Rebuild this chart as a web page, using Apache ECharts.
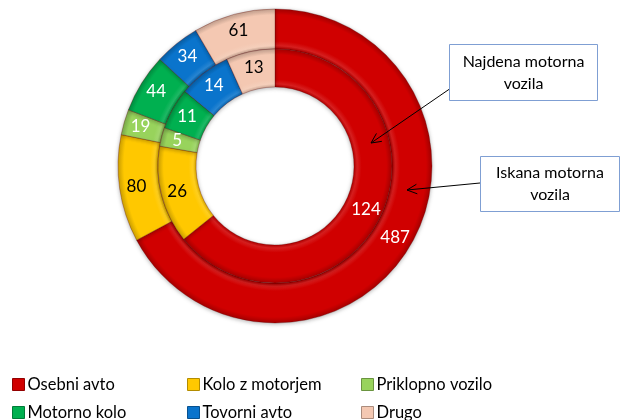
<!DOCTYPE html>
<html><head><meta charset="utf-8">
<script src="https://cdn.jsdelivr.net/npm/echarts@6/dist/echarts.min.js"></script>
<style>html,body{margin:0;padding:0;background:#fff}#c{width:620px;height:420px}</style>
</head><body><div id="c"></div>
<script>
const categories = ['Osebni avto','Kolo z motorjem','Priklopno vozilo','Motorno kolo','Tovorni avto','Drugo'];
const iskana = [487,80,19,44,34,61];
const najdena = [124,26,5,11,14,13];
const colors = ['#d00000','#ffc800','#98d35c','#00b050','#0a74cc','#f4c8b2'];
const labelColors = ['#ffffff','#000000','#ffffff','#ffffff','#ffffff','#000000'];

const CX = 275, CY = 166;
const FONT = 'Lato, "Open Sans", sans-serif';

function shade(hex, f){
  const n = parseInt(hex.slice(1),16);
  let r=(n>>16)&255,g=(n>>8)&255,b=n&255;
  if(f<0){r=r*(1+f);g=g*(1+f);b=b*(1+f);} else {r=r+(255-r)*f;g=g+(255-g)*f;b=b+(255-b)*f;}
  return 'rgb('+Math.round(r)+','+Math.round(g)+','+Math.round(b)+')';
}
function ringColor(hex, r0, r1, R){
  const a=r0/R, b=r1/R, w=b-a;
  return {type:'radial', x:CX, y:CY, r:R, global:true, colorStops:[
    {offset:0, color:shade(hex,-0.2)},
    {offset:a, color:shade(hex,-0.15)},
    {offset:a+w*0.08, color:shade(hex,0.12)},
    {offset:a+w*0.2, color:hex},
    {offset:a+w*0.85, color:hex},
    {offset:b, color:shade(hex,-0.2)},
    {offset:1, color:shade(hex,-0.2)}
  ]};
}
function makeData(vals, r0, r1){
  return vals.map((v,i)=>({name:categories[i], value:v,
    itemStyle:{color:ringColor(colors[i], r0, r1, 157)},
    label:{color:labelColors[i]}}));
}

function arrow(x1,y1,x2,y2){
  const dx=x1-x2, dy=y1-y2, L=Math.hypot(dx,dy), ux=dx/L, uy=dy/L;
  const a=0.45, len=11;
  const p1=[x2+len*(ux*Math.cos(a)-uy*Math.sin(a)), y2+len*(ux*Math.sin(a)+uy*Math.cos(a))];
  const p2=[x2+len*(ux*Math.cos(-a)-uy*Math.sin(-a)), y2+len*(ux*Math.sin(-a)+uy*Math.cos(-a))];
  return [
    {type:'line', shape:{x1:x1,y1:y1,x2:x2,y2:y2}, style:{stroke:'#000',lineWidth:1}, z:100},
    {type:'polyline', shape:{points:[p1,[x2,y2],p2]}, style:{stroke:'#000',lineWidth:1,fill:null}, z:100}
  ];
}
function box(x,y,w,h,lines){
  const els=[{type:'rect', shape:{x:x,y:y,width:w,height:h}, style:{fill:'#fff',stroke:'#7f9fd3',lineWidth:1}, z:100}];
  lines.forEach((t,i)=>els.push({type:'text', x:x+w/2, y:y+h/2+(i-(lines.length-1)/2)*22,
    style:{text:t, fill:'#000', font:'16px '+FONT, align:'center', verticalAlign:'middle'}, z:101}));
  return els;
}

const legendLeft = [7, 182, 356];
const legendTop = [371, 399];
const legends = categories.map((name,i)=>({
  icon:'rect', itemWidth:12, itemHeight:12, left:legendLeft[i%3], top:legendTop[Math.floor(i/3)],
  textStyle:{fontFamily:FONT, fontSize:16.5, color:'#000', padding:[0,0,0,-2]},
  data:[{name:name, itemStyle:{color:colors[i], borderColor:shade(colors[i],-0.3), borderWidth:1}}]
}));

const chart = echarts.init(document.getElementById('c'), null, {renderer:'canvas'});
chart.setOption({
  animation:false,
  legend:legends,
  series:[
    {type:'pie', name:'Iskana motorna vozila', center:[CX,CY], radius:[117,157], startAngle:90, clockwise:true,
     label:{position:'inside', fontFamily:FONT, fontSize:17, formatter:'{c}'}, labelLine:{show:false},
     itemStyle:{borderColor:'rgba(90,0,0,0.3)', borderWidth:1, shadowBlur:4, shadowColor:'rgba(0,0,0,0.3)', shadowOffsetY:1},
     emphasis:{disabled:true}, data:makeData(iskana,117,157)},
    {type:'pie', name:'Najdena motorna vozila', center:[CX,CY], radius:[79,117], startAngle:90, clockwise:true,
     label:{position:'inside', fontFamily:FONT, fontSize:17, formatter:'{c}'}, labelLine:{show:false},
     itemStyle:{borderColor:'rgba(90,0,0,0.3)', borderWidth:1, shadowBlur:4, shadowColor:'rgba(0,0,0,0.3)', shadowOffsetY:1},
     emphasis:{disabled:true}, data:makeData(najdena,79,117)}
  ],
  graphic:[].concat(
    arrow(451,88,371,143),
    arrow(480,183,407,190),
    box(449.5,44.5,148,56,['Najdena motorna','vozila']),
    box(480.5,156.5,139,55,['Iskana motorna','vozila'])
  )
});
</script></body></html>
